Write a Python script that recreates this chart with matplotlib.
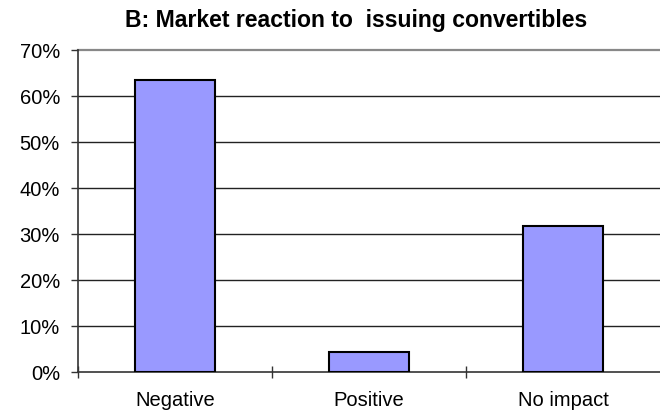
import matplotlib
matplotlib.use("Agg")
import matplotlib.pyplot as plt
from matplotlib.ticker import FuncFormatter, FixedLocator

categories = ["Negative", "Positive", "No impact"]
values = [63.5, 4.3, 31.8]
y_ticks = [0, 10, 20, 30, 40, 50, 60, 70]
title = "B: Market reaction to  issuing convertibles"

plt.rcParams['font.family'] = ['Liberation Sans', 'DejaVu Sans']

fig = plt.figure(figsize=(6.6, 4.19), dpi=100)
ax = fig.add_axes([78/660, 47/419, 1 - 78/660, (372-50)/419])

x = list(range(len(categories)))
ax.bar(x, values, width=0.41, color="#9999FF", edgecolor="black", linewidth=1.5, zorder=3)

ax.set_xlim(-0.5, len(categories) - 0.5)
ax.set_ylim(0, 70)
ax.set_yticks(y_ticks)
ax.yaxis.set_major_formatter(FuncFormatter(lambda v, p: f"{int(v)}%"))
for t in y_ticks[1:-1]:
    ax.axhline(t, color="#222222", linewidth=1.0, zorder=1)
ax.axhline(70, color="#888888", linewidth=1.6, zorder=1, clip_on=False)

ax.set_xticks(x)
ax.set_xticklabels(categories)
ax.xaxis.set_minor_locator(FixedLocator([-0.5, 0.5, 1.5]))
ax.tick_params(axis='x', which='major', length=0, pad=14, labelsize=14.5)
ax.tick_params(axis='x', which='minor', direction='inout', length=9, width=1, color='#333333')
ax.tick_params(axis='y', direction='out', length=5, width=1, pad=8, labelsize=14.5, color='#333333')

for s in ['top', 'right']:
    ax.spines[s].set_visible(False)
ax.spines['left'].set_color('#333333')
ax.spines['bottom'].set_color('#333333')
ax.spines['left'].set_linewidth(1.2)
ax.spines['bottom'].set_linewidth(1.2)

fig.text(356/660, 1 - 27/419, title, ha='center', va='baseline', fontsize=16.6, fontweight='bold')

fig.savefig("out.png", dpi=100)
